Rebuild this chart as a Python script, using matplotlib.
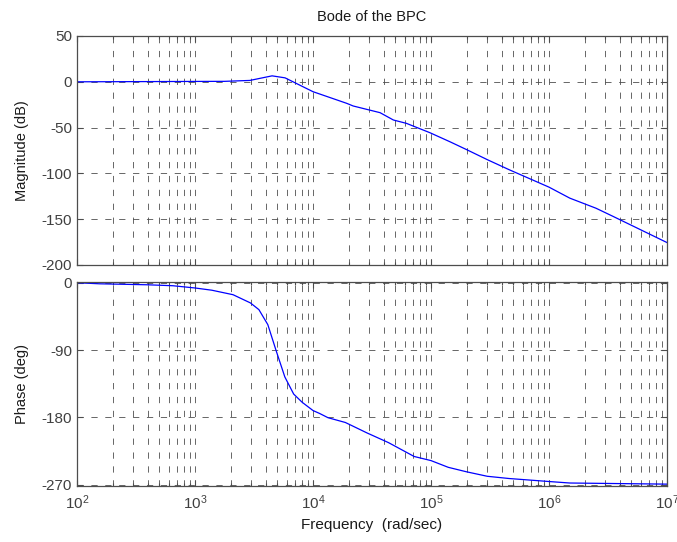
import numpy as np
import matplotlib
matplotlib.use("Agg")
import matplotlib.pyplot as plt
from matplotlib.ticker import LogLocator, FixedLocator, NullFormatter

plt.rcParams['font.family'] = ['Liberation Sans', 'DejaVu Sans']
plt.rcParams['mathtext.fontset'] = 'custom'
plt.rcParams['mathtext.rm'] = 'Liberation Sans'
plt.rcParams['mathtext.it'] = 'Liberation Sans'
plt.rcParams['axes.unicode_minus'] = False
plt.rcParams['lines.scale_dashes'] = False

# Data
mag_freq = [1e2, 1.78e3, 2.92e3, 4.5e3, 5.8e3, 1e4, 1.93e4, 2.19e4, 3.7e4,
            4.8e4, 6.2e4, 9.8e4, 1.45e5, 2e5, 3e5, 4.6e5, 1e6, 1.5e6,
            2.5e6, 3.5e6, 1e7]
mag_db = [0.0, 0.5, 1.5, 6.5, 4.3, -10.8, -23.5, -26.4, -33.7,
          -41.7, -45.4, -55.6, -65.5, -74, -85, -96, -115, -127,
          -138, -147, -175.5]

ph_freq = [1e2, 155, 390, 650, 1e3, 1.39e3, 2.1e3, 2.95e3, 3.48e3, 4.14e3,
           4.85e3, 5.77e3, 6.86e3, 8.1e3, 1e4, 1.14e4, 1.34e4, 1.88e4,
           2.87e4, 4.37e4, 7.2e4, 1e5, 1.4e5, 2e5, 3e5, 4.6e5, 1e6,
           1.5e6, 1e7]
ph_deg = [0, -1.4, -2.7, -4, -7, -10, -16, -27, -36, -56,
          -90, -126, -149, -160, -171, -175, -180.6, -187,
          -201, -214, -232.5, -238, -247, -253, -259, -262, -266,
          -268, -269.5]

mag_ticks = [50, 0, -50, -100, -150, -200]
ph_ticks = [0, -90, -180, -270]

title = "Bode of the BPC"
mag_label = "Magnitude (dB)"
ph_label = "Phase (deg)"
x_label = "Frequency  (rad/sec)"

W, H = 677, 542
fig = plt.figure(figsize=(W / 100, H / 100), dpi=100)

left = 77 / W
width = 590 / W
ax1 = fig.add_axes([left, 1 - 265 / H, width, 229 / H])
ax2 = fig.add_axes([left, 1 - 486 / H, width, 204 / H])

frame_col = '0.3'
text_col = '0.25'
grid_kw = dict(color='0.3', linewidth=0.6, linestyle=(0, (4.5, 5.5)))

for ax in (ax1, ax2):
    ax.set_xscale('log')
    ax.set_xlim(1e2, 1e7)
    ax.xaxis.set_major_locator(LogLocator(base=10, numticks=10))
    ax.xaxis.set_minor_locator(LogLocator(base=10, subs=np.arange(2, 10), numticks=100))
    ax.xaxis.set_minor_formatter(NullFormatter())
    ax.grid(True, which='both', axis='x', **grid_kw)
    ax.grid(True, which='major', axis='y', **grid_kw)
    ax.tick_params(which='both', direction='in', top=True, right=True,
                   colors=frame_col, labelcolor=text_col, labelsize=11, width=0.8)
    ax.tick_params(which='major', length=4)
    ax.tick_params(which='minor', length=2.5)
    for s in ax.spines.values():
        s.set_color(frame_col)
        s.set_linewidth(0.9)
    ax.set_axisbelow(True)

ax1.plot(mag_freq, mag_db, color='#0000ff', linewidth=0.9)
ax1.set_ylim(-200, 50)
ax1.yaxis.set_major_locator(FixedLocator(mag_ticks))
ax1.set_yticklabels([str(t) for t in mag_ticks])
ax1.tick_params(axis='x', labelbottom=False)
ax1.set_title(title, fontsize=10.5, color='0.1', pad=11)
ax1.set_ylabel(mag_label, fontsize=10.5, color='0.1')
ax1.yaxis.set_label_coords(-0.082, 0.5)

ax2.plot(ph_freq, ph_deg, color='#0000ff', linewidth=0.9)
ax2.set_ylim(-272, 1)
ax2.yaxis.set_major_locator(FixedLocator(ph_ticks))
ax2.set_yticklabels([str(t) for t in ph_ticks])
ax2.set_ylabel(ph_label, fontsize=10.5, color='0.1')
ax2.yaxis.set_label_coords(-0.082, 0.5)
ax2.tick_params(axis='x', pad=5)
ax2.set_xlabel(x_label, fontsize=11, color='0.1', labelpad=5)

fig.savefig('out.png', dpi=100)
